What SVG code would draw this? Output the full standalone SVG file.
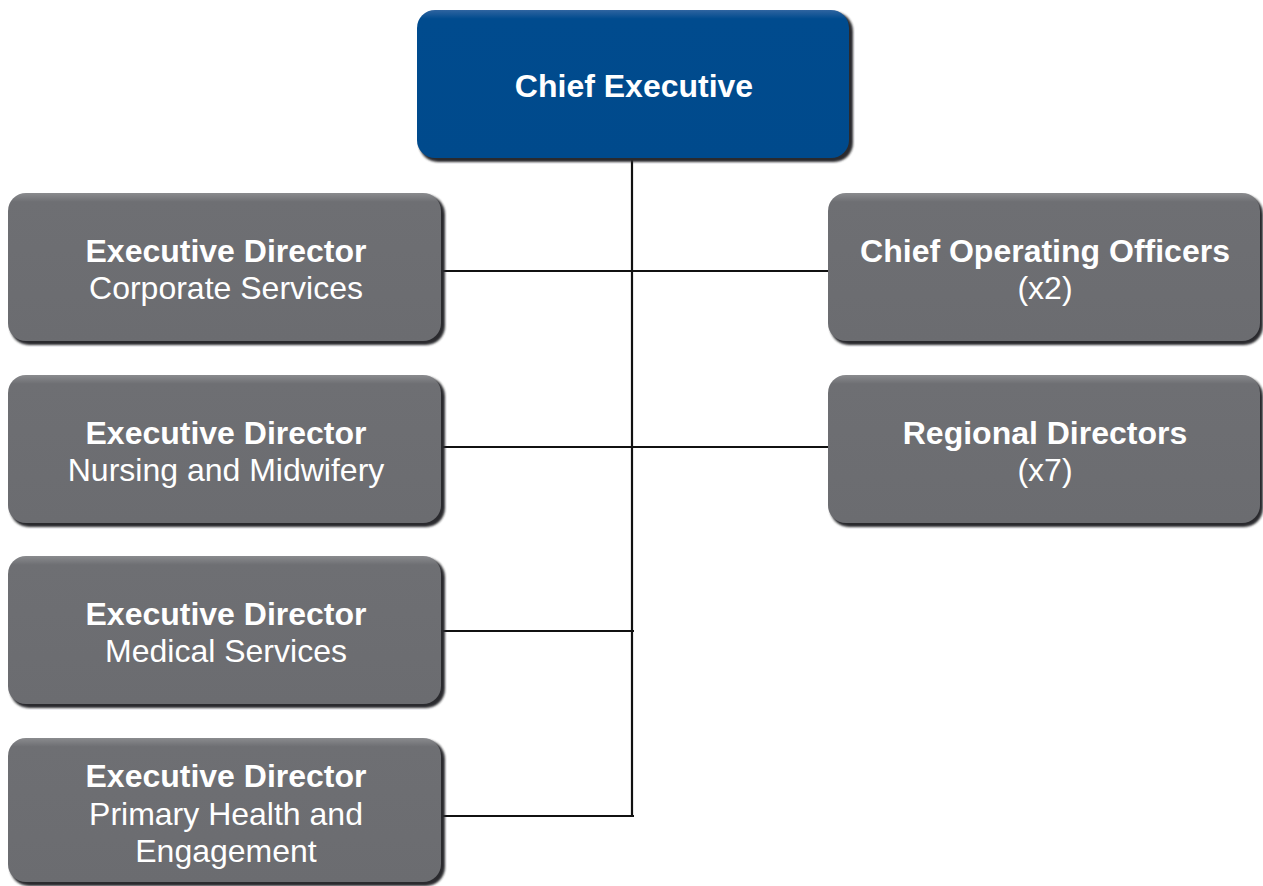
<svg xmlns="http://www.w3.org/2000/svg" width="1263" height="886" viewBox="0 0 1263 886">
  <defs>
    <linearGradient id="gBlue" x1="0" y1="0" x2="0" y2="1">
      <stop offset="0" stop-color="#2f64a0"/>
      <stop offset="0.06" stop-color="#004b8e"/>
      <stop offset="1" stop-color="#004a8c"/>
    </linearGradient>
    <linearGradient id="gGrey" x1="0" y1="0" x2="0" y2="1">
      <stop offset="0" stop-color="#8a8b8e"/>
      <stop offset="0.06" stop-color="#6e6f73"/>
      <stop offset="1" stop-color="#6b6c70"/>
    </linearGradient>
    <filter id="edge" x="-5%" y="-5%" width="110%" height="115%">
      <feGaussianBlur stdDeviation="1.2"/>
    </filter>
  </defs>
  <style>
    .shadow { fill: #2a2b2e; filter: url(#edge); }
    .blue { fill: url(#gBlue); }
    .grey { fill: url(#gGrey); }
    .conn { stroke: #111; stroke-width: 2.2; fill: none; }
    text { font-family: "Liberation Sans", Arial, sans-serif; fill: #ffffff; text-anchor: middle; font-size: 32px; }
    .b { font-weight: bold; }
  </style>

  <rect width="1263" height="886" fill="#ffffff"/>

  <!-- connectors -->
  <g id="connectors">
    <line class="conn" x1="632" y1="158" x2="632" y2="817"/>
    <line class="conn" x1="441" y1="271" x2="830" y2="271"/>
    <line class="conn" x1="441" y1="447" x2="830" y2="447"/>
    <line class="conn" x1="441" y1="631" x2="634" y2="631"/>
    <line class="conn" x1="441" y1="816" x2="634" y2="816"/>
  </g>

  <!-- Chief Executive -->
  <g id="chief-executive">
    <rect class="shadow" x="419" y="12" width="434" height="150" rx="19"/>
    <rect class="blue" x="417" y="10" width="432" height="148" rx="18"/>
    <text class="b" x="634" y="97">Chief Executive</text>
  </g>

  <!-- Left column -->
  <g id="ed-corporate">
    <rect class="shadow" x="10" y="195" width="435" height="150" rx="19"/>
    <rect class="grey" x="8" y="193" width="433" height="148" rx="18"/>
    <text class="b" x="226" y="262">Executive Director</text>
    <text x="226" y="299">Corporate Services</text>
  </g>

  <g id="ed-nursing">
    <rect class="shadow" x="10" y="377" width="435" height="150" rx="19"/>
    <rect class="grey" x="8" y="375" width="433" height="148" rx="18"/>
    <text class="b" x="226" y="444">Executive Director</text>
    <text x="226" y="481">Nursing and Midwifery</text>
  </g>

  <g id="ed-medical">
    <rect class="shadow" x="10" y="558" width="435" height="150" rx="19"/>
    <rect class="grey" x="8" y="556" width="433" height="148" rx="18"/>
    <text class="b" x="226" y="625">Executive Director</text>
    <text x="226" y="662">Medical Services</text>
  </g>

  <g id="ed-primary-health">
    <rect class="shadow" x="10" y="740" width="435" height="146" rx="19"/>
    <rect class="grey" x="8" y="738" width="433" height="144" rx="18"/>
    <text class="b" x="226" y="787">Executive Director</text>
    <text x="226" y="825">Primary Health and</text>
    <text x="226" y="862">Engagement</text>
  </g>

  <!-- Right column -->
  <g id="chief-operating-officers">
    <rect class="shadow" x="830" y="195" width="433" height="150" rx="19"/>
    <rect class="grey" x="828" y="193" width="432" height="148" rx="18"/>
    <text class="b" x="1045" y="262">Chief Operating Officers</text>
    <text x="1045" y="299">(x2)</text>
  </g>

  <g id="regional-directors">
    <rect class="shadow" x="830" y="377" width="433" height="150" rx="19"/>
    <rect class="grey" x="828" y="375" width="432" height="148" rx="18"/>
    <text class="b" x="1045" y="444">Regional Directors</text>
    <text x="1045" y="481">(x7)</text>
  </g>
</svg>
